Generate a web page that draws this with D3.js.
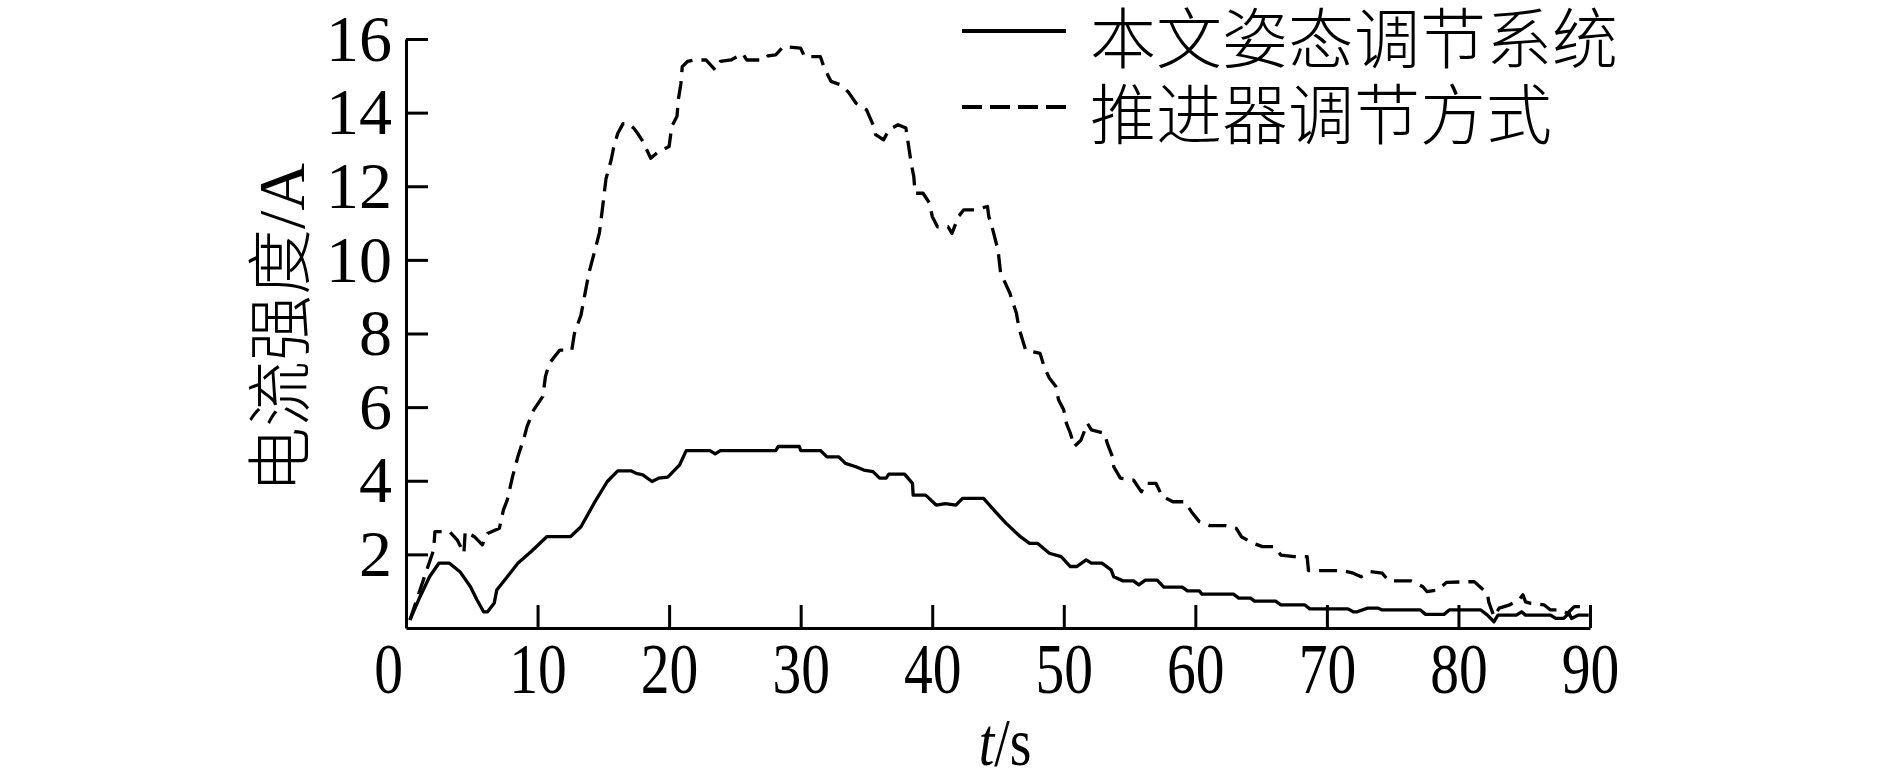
<!DOCTYPE html>
<html>
<head>
<meta charset="utf-8">
<script src="https://cdn.jsdelivr.net/npm/d3@7"></script>
<style>
    html, body { margin: 0; padding: 0; background: #fff; }
    svg { display: block; }
</style>
</head>
<body>
<svg id="chart" width="1889" height="769"></svg>
<script>
// 本文姿态调节系统 (solid)
var tSys = [0.3, 1.0, 1.8, 2.5, 3.3, 4.1, 4.9, 5.4, 5.9, 6.2, 6.7, 6.9, 7.7, 8.5, 9.5, 10.7, 12.5, 13.3, 14.3, 15.3,
    16.1, 17.1, 17.5, 18.0, 18.7, 19.2, 19.9, 20.8, 21.3, 23.1, 23.5, 23.9, 28.1, 28.3, 29.9, 30.0, 31.5, 32.0, 32.9, 33.4,
    34.2, 34.8, 35.5, 36.0, 36.5, 36.7, 37.9, 38.5, 38.55, 39.5, 40.3, 41.0, 41.8, 42.3, 43.9, 44.9, 45.6, 46.7, 47.4, 48.0,
    48.9, 49.8, 50.5, 51.0, 51.7, 52.1, 52.9, 53.6, 53.8, 54.5, 55.3, 55.7, 56.2, 57.1, 57.6, 59.0, 59.4, 60.3, 60.5, 62.9,
    63.3, 64.2, 64.5, 66.1, 66.5, 68.3, 68.7, 71.6, 72.0, 72.3, 73.1, 73.9, 74.2, 77.1, 77.5, 78.9, 79.3, 81.7, 82.2, 82.7,
    83.0, 84.4, 84.8, 85.1, 87.0, 87.4, 88.0, 88.4, 88.6, 89.1, 89.9];
var iSys = [0.22, 0.8, 1.4, 1.76, 1.76, 1.53, 1.12, 0.76, 0.44, 0.44, 0.67, 1.03, 1.39, 1.76, 2.07, 2.48, 2.48, 2.75, 3.39, 3.98,
    4.27, 4.27, 4.2, 4.16, 3.98, 4.07, 4.1, 4.43, 4.82, 4.82, 4.73, 4.82, 4.82, 4.93, 4.93, 4.82, 4.82, 4.65, 4.65, 4.47,
    4.38, 4.29, 4.25, 4.07, 4.07, 4.18, 4.18, 3.93, 3.61, 3.61, 3.34, 3.38, 3.34, 3.52, 3.52, 3.12, 2.85, 2.48, 2.3, 2.3,
    2.03, 1.94, 1.67, 1.67, 1.85, 1.76, 1.76, 1.58, 1.39, 1.28, 1.28, 1.17, 1.3, 1.3, 1.11, 1.11, 1.01, 1.01, 0.92, 0.92,
    0.81, 0.81, 0.73, 0.73, 0.63, 0.63, 0.52, 0.52, 0.44, 0.44, 0.54, 0.54, 0.49, 0.49, 0.37, 0.37, 0.49, 0.49, 0.35, 0.17,
    0.35, 0.35, 0.44, 0.35, 0.35, 0.26, 0.26, 0.4, 0.26, 0.35, 0.35];

// 推进器调节方式 (dashed)
var tThr = [0.3, 1.4, 2.1, 2.2, 3.3, 3.9, 4.4, 4.5, 5.2, 5.8, 6.2, 7.1, 7.4, 7.7, 8.1, 8.5, 9.0, 9.2, 9.7, 10.4,
    10.6, 10.9, 11.2, 11.7, 12.6, 12.8, 13.3, 13.9, 14.3, 14.7, 14.9, 15.2, 15.6, 15.8, 16.1, 16.5, 16.9, 17.3, 17.6, 18.0,
    18.6, 19.2, 20.0, 20.2, 20.6, 20.7, 20.9, 21.0, 21.4, 21.9, 22.8, 23.5, 23.9, 24.7, 25.6, 25.9, 27.2, 27.5, 28.1, 28.7,
    30.0, 30.3, 31.5, 31.8, 32.3, 33.0, 33.6, 34.2, 35.0, 35.5, 35.7, 36.3, 36.7, 37.4, 38.0, 38.4, 38.6, 38.7, 39.3, 39.8,
    40.0, 40.4, 41.2, 41.5, 42.0, 42.4, 43.2, 44.2, 44.3, 44.6, 45.0, 45.2, 45.9, 46.4, 46.6, 47.1, 48.2, 48.5, 48.9, 49.4,
    49.6, 50.0, 50.2, 50.5, 50.8, 51.3, 51.8, 52.1, 53.1, 53.3, 53.7, 53.8, 54.3, 55.3, 55.9, 56.2, 57.0, 57.5, 58.3, 59.2,
    59.7, 60.3, 61.1, 62.3, 63.1, 63.5, 64.4, 65.1, 66.0, 66.5, 67.5, 68.5, 68.6, 71.2, 72.0, 72.6, 73.3, 74.2, 74.7, 76.4,
    77.3, 77.6, 78.4, 79.1, 81.2, 82.2, 82.3, 82.7, 83.1, 83.9, 84.6, 84.9, 85.1, 85.5, 86.5, 87.0, 87.8, 88.3, 88.8, 89.9];
var iThr = [0.22, 1.39, 2.12, 2.62, 2.62, 2.39, 2.03, 2.62, 2.48, 2.26, 2.57, 2.71, 3.2, 3.48, 4.11, 4.65, 5.2, 5.47, 5.92, 6.29,
    6.83, 7.19, 7.33, 7.55, 7.55, 8.0, 8.5, 9.64, 10.18, 10.73, 11.3, 12.2, 12.72, 13.08, 13.44, 13.7, 13.71, 13.58, 13.44, 13.22,
    12.76, 12.94, 13.08, 13.62, 13.9, 14.35, 14.8, 15.25, 15.39, 15.43, 15.43, 15.16, 15.39, 15.43, 15.6, 15.43, 15.43, 15.54, 15.57, 15.8,
    15.75, 15.52, 15.52, 15.21, 14.85, 14.76, 14.57, 14.26, 14.08, 13.67, 13.4, 13.26, 13.53, 13.67, 13.58, 12.63, 12.26, 11.81, 11.81, 11.54,
    11.18, 10.9, 10.9, 10.72, 11.18, 11.36, 11.36, 11.45, 11.18, 10.82, 10.27, 9.64, 9.1, 8.55, 8.14, 7.55, 7.46, 7.1, 6.79, 6.56,
    6.2, 5.92, 5.56, 5.29, 4.93, 5.1, 5.56, 5.38, 5.29, 5.02, 4.65, 4.38, 4.07, 4.02, 3.7, 3.93, 3.93, 3.57, 3.43, 3.43,
    3.16, 2.89, 2.78, 2.78, 2.71, 2.48, 2.3, 2.21, 2.21, 1.98, 1.94, 1.94, 1.56, 1.56, 1.49, 1.39, 1.53, 1.49, 1.28, 1.28,
    1.12, 0.99, 1.03, 1.24, 1.26, 0.94, 0.71, 0.31, 0.54, 0.63, 0.76, 0.9, 0.71, 0.67, 0.63, 0.49, 0.49, 0.4, 0.58, 0.58];

var xTicks = [0, 10, 20, 30, 40, 50, 60, 70, 80, 90];
var yTicks = [2, 4, 6, 8, 10, 12, 14, 16];
var seriesNames = ["本文姿态调节系统", "推进器调节方式"];
var yTitleCn = "电流强度";
var yTitleUnit = "/A";

var serif = "'Liberation Serif', 'Times New Roman', serif";
var cjk = "'Noto Sans CJK SC', sans-serif";

var svg = d3.select("#chart");

var x = d3.scaleLinear().domain([0, 90]).range([406, 1590]);
var y = d3.scaleLinear().domain([0, 16]).range([628, 39]);

// x 轴，刻度朝内
var xAxis = svg.append("g")
    .attr("transform", "translate(0," + y(0) + ")")
    .call(d3.axisBottom(x).tickValues(xTicks).tickSizeInner(-23).tickSizeOuter(0).tickPadding(15));

xAxis.selectAll("text")
    .attr("font-family", serif)
    .attr("font-size", 71)
    .attr("fill", "#000")
    .attr("transform", "scale(0.81,1)");
// "0" 标签在原图中略微偏左
xAxis.selectAll(".tick text").filter(function (d) { return d === 0; }).attr("x", -22);

// y 轴
var yAxis = svg.append("g")
    .attr("transform", "translate(" + x(0) + ",0)")
    .call(d3.axisLeft(y).tickValues(yTicks).tickSizeInner(-22).tickSizeOuter(0).tickPadding(14));

yAxis.selectAll("text")
    .attr("font-family", serif)
    .attr("font-size", 66)
    .attr("fill", "#000");

svg.selectAll(".domain, .tick line")
    .attr("stroke", "#000")
    .attr("stroke-width", 3);

// 曲线
var line = d3.line()
    .x(function (d) { return x(d[0]); })
    .y(function (d) { return y(d[1]); });

svg.append("path")
    .datum(d3.zip(tThr, iThr))
    .attr("d", line)
    .attr("fill", "none")
    .attr("stroke", "#000")
    .attr("stroke-width", 3.3)
    .attr("stroke-dasharray", "18,9")
    .attr("stroke-linejoin", "round");

svg.append("path")
    .datum(d3.zip(tSys, iSys))
    .attr("d", line)
    .attr("fill", "none")
    .attr("stroke", "#000")
    .attr("stroke-width", 3.3)
    .attr("stroke-linejoin", "round");

// 图例
var legend = svg.append("g");
var legendRows = [
    { name: seriesNames[0], dash: null, ly: 31, ty: 63 },
    { name: seriesNames[1], dash: "20,8", ly: 107, ty: 139 }
];
legendRows.forEach(function (r) {
    legend.append("line")
        .attr("x1", 962).attr("x2", 1066)
        .attr("y1", r.ly).attr("y2", r.ly)
        .attr("stroke", "#000")
        .attr("stroke-width", 4)
        .attr("stroke-dasharray", r.dash);
    legend.append("text")
        .attr("x", 1090).attr("y", r.ty)
        .attr("font-family", cjk)
        .attr("font-weight", 300)
        .attr("font-size", 66)
        .attr("fill", "#000")
        .text(r.name);
});

// y 轴标题
var yTitle = svg.append("text")
    .attr("transform", "translate(279,328) rotate(-90)")
    .attr("text-anchor", "middle")
    .attr("dy", "0.38em")
    .attr("font-size", 66)
    .attr("fill", "#000");
yTitle.append("tspan").attr("font-family", cjk).attr("font-weight", 300).text(yTitleCn);
yTitle.append("tspan").attr("font-family", serif).text(yTitleUnit);

// x 轴标题
var xTitle = svg.append("text")
    .attr("transform", "translate(1005,765) scale(0.82,1)")
    .attr("text-anchor", "middle")
    .attr("font-family", serif)
    .attr("font-size", 68)
    .attr("fill", "#000");
xTitle.append("tspan").attr("font-style", "italic").text("t");
xTitle.append("tspan").text("/s");
</script>
</body>
</html>
